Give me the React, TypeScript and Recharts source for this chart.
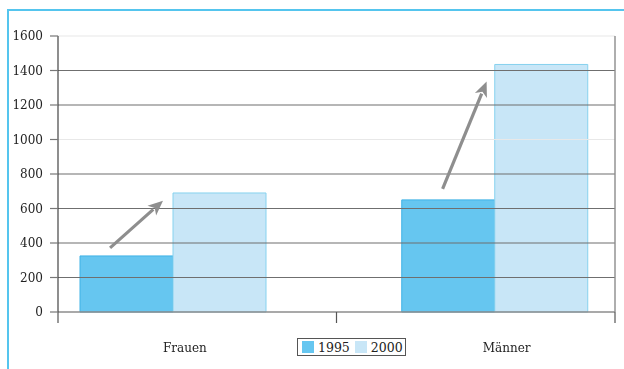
import { Bar, BarChart, Legend, ReferenceLine, XAxis, YAxis } from "recharts";

const categories = ["Frauen", "Männer"];
const values1995 = [325, 650];
const values2000 = [690, 1435];
const yTicks = [0, 200, 400, 600, 800, 1000, 1200, 1400, 1600];
const darkGrid = [200, 400, 600, 800, 1200, 1400];
const lightGrid = [1000, 1600];
// arrow annotations: [xFrom, yFrom, xTo, yTo] in (group slot, value) units
const arrows = [
  [0.187, 372, 0.377, 645],
  [1.381, 714, 1.539, 1336]
];

const FONT = "'DejaVu Serif', serif";
const BLUE = "#66c6f0";
const PALE = "#c8e6f7";

// slot = middle of each group's cell on the 0..2 base axis
const data = categories.map((name, i) => ({ name, slot: i + 0.5, y1995: values1995[i], y2000: values2000[i] }));

function Arrow(props: any) {
  const { x1, y1, x2, y2 } = props;
  const dx = x2 - x1;
  const dy = y2 - y1;
  const len = Math.hypot(dx, dy);
  const ux = dx / len;
  const uy = dy / len;
  const head = 15;
  const half = 6.5;
  const bx = x2 - ux * head;
  const by = y2 - uy * head;
  return (
    <g>
      <line x1={x1} y1={y1} x2={bx + ux * 2} y2={by + uy * 2} stroke="#8e8e8e" strokeWidth={3.2} />
      <polygon
        points={`${x2},${y2} ${bx - uy * half},${by + ux * half} ${bx + ux * 4},${by + uy * 4} ${bx + uy * half},${by - ux * half}`}
        fill="#8e8e8e"
      />
    </g>
  );
}

function LegendBox({ payload }: any) {
  return (
    <div
      style={{
        display: "flex",
        alignItems: "center",
        border: "1px solid #555",
        height: 18,
        padding: "0 2px 0 4px",
        fontFamily: FONT,
        fontSize: 12.5,
        color: "#222",
        background: "#fff",
        boxSizing: "border-box"
      }}
    >
      {(payload || []).map((item: any, i: number) => (
        <span key={item.value} style={{ display: "flex", alignItems: "center", marginLeft: i ? 5 : 0 }}>
          <span style={{ width: 12, height: 12, background: item.color, marginRight: 4 }} />
          {item.value}
        </span>
      ))}
    </div>
  );
}

export default function App() {
  return (
    <div style={{ position: "relative", width: 616, height: 353 }}>
      {/* blue frame, open at the right and bottom */}
      <div
        style={{
          position: "fixed",
          top: 9,
          left: 7,
          width: 640,
          height: 400,
          borderTop: "2px solid #55c5ee",
          borderLeft: "2px solid #55c5ee",
          pointerEvents: "none"
        }}
      />
      <div style={{ position: "absolute", left: 0, top: 0 }}>
        <BarChart
          width={616}
          height={353}
          data={data}
          margin={{ top: 28, right: 8, left: 0, bottom: 0 }}
          barGap={0}
        >
          <XAxis
            xAxisId="base"
            dataKey="slot"
            type="number"
            domain={[0, 2]}
            ticks={[0, 1, 2]}
            interval={0}
            allowDataOverflow
            height={1}
            tick={() => <g />}
            tickSize={11}
            tickLine={{ stroke: "#555", strokeWidth: 1.2 }}
            axisLine={{ stroke: "#8c8c8c", strokeWidth: 1.6 }}
          />
          <XAxis
            xAxisId="groups"
            dataKey="name"
            height={48}
            padding={{ left: -46, right: -40.5 }}
            axisLine={false}
            tickLine={false}
            tickSize={0}
            tickMargin={30}
            tick={{ fill: "#222", fontSize: 12, fontFamily: FONT, dx: 12 }}
          />
          <YAxis
            yAxisId="left"
            width={50}
            domain={[0, 1600]}
            ticks={yTicks}
            interval={0}
            tickSize={8}
            tickMargin={7}
            tickLine={{ stroke: "#777", strokeWidth: 1.2 }}
            axisLine={{ stroke: "#444", strokeWidth: 1.2 }}
            tick={{ fill: "#222", fontSize: 12, fontFamily: FONT }}
          />
          <YAxis
            yAxisId="right"
            orientation="right"
            width={1}
            domain={[0, 1600]}
            tick={false}
            tickLine={false}
            axisLine={{ stroke: "#8c8c8c", strokeWidth: 1.4 }}
          />
          {lightGrid.map((v) => (
            <ReferenceLine key={v} xAxisId="base" yAxisId="left" y={v} stroke="#e8e8e8" strokeWidth={1.2} />
          ))}
          {darkGrid.map((v) => (
            <ReferenceLine key={v} xAxisId="base" yAxisId="left" y={v} stroke="#6f6f6f" strokeWidth={1.2} />
          ))}
          <Legend
            verticalAlign="middle"
            align="center"
            layout="horizontal"
            content={<LegendBox />}
            wrapperStyle={{ left: 289, top: 330, width: "auto" }}
          />
          <Bar
            xAxisId="groups"
            yAxisId="left"
            dataKey="y1995"
            name="1995"
            fill={BLUE}
            stroke="#3fb2e6"
            strokeWidth={1}
            barSize={93}
            isAnimationActive={false}
          />
          <Bar
            xAxisId="groups"
            yAxisId="left"
            dataKey="y2000"
            name="2000"
            fill={PALE}
            stroke="#86d2ef"
            strokeWidth={1}
            barSize={93}
            isAnimationActive={false}
          />
          {arrows.map(([xa, ya, xb, yb], i) => (
            <ReferenceLine
              key={i}
              xAxisId="base"
              yAxisId="left"
              segment={[
                { x: xa, y: ya },
                { x: xb, y: yb }
              ]}
              ifOverflow="visible"
              shape={<Arrow />}
            />
          ))}
        </BarChart>
      </div>
    </div>
  );
}
